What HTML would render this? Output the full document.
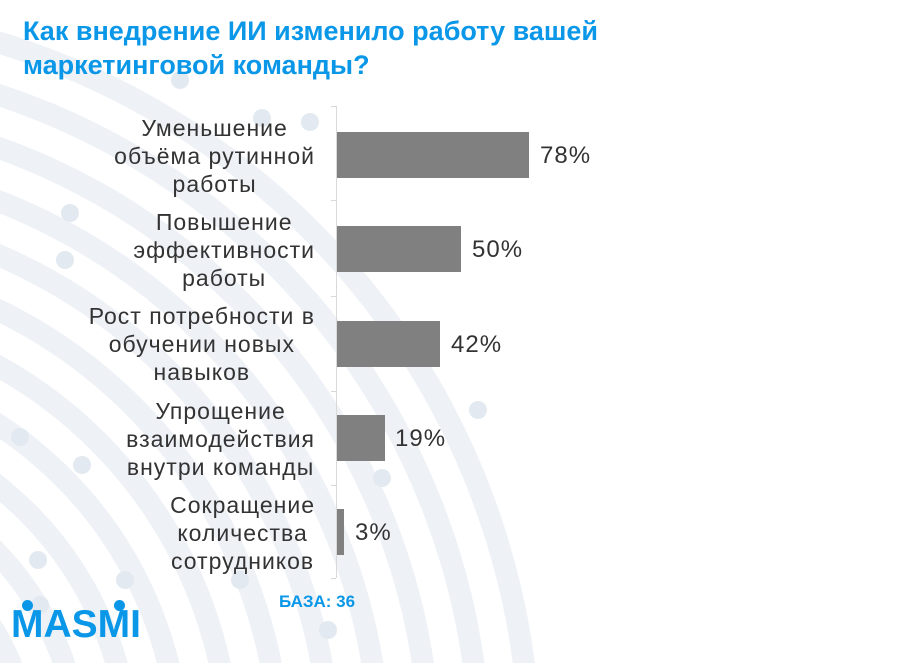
<!DOCTYPE html>
<html style="overflow:hidden"><head><meta charset="utf-8"><style>
html,body{margin:0;width:906px;height:663px;overflow:hidden}
body{background:#fff;font-family:"Liberation Sans","DejaVu Sans",sans-serif;position:relative}
.t{position:absolute;left:23px;top:14px;color:#0a97e8;font-weight:bold;font-size:27px;line-height:34px;white-space:nowrap}
.l{position:absolute;right:591px;text-align:center;color:#333;font-size:23px;letter-spacing:1px;line-height:28px;white-space:nowrap}
.b{position:absolute;left:337px;height:46px;background:#808080}
.v{position:absolute;color:#333;font-size:24px;letter-spacing:1px}
</style></head><body>
<svg width="906" height="663" style="position:absolute;left:0;top:0">
<g fill="none" stroke="#eef2f7" stroke-width="22">
<circle cx="-220" cy="760" r="250"/><circle cx="-220" cy="760" r="300"/><circle cx="-220" cy="760" r="350"/>
<circle cx="-220" cy="760" r="400"/><circle cx="-220" cy="760" r="450"/><circle cx="-220" cy="760" r="500"/>
<circle cx="-220" cy="760" r="550"/><circle cx="-220" cy="760" r="600"/><circle cx="-220" cy="760" r="650"/>
<circle cx="-220" cy="760" r="700"/><circle cx="-220" cy="760" r="750"/>
</g>
<g fill="#e3e9f0"><circle cx="40" cy="605" r="9"/><circle cx="125" cy="580" r="9"/><circle cx="240" cy="580" r="9"/><circle cx="328" cy="630" r="9"/><circle cx="70" cy="213" r="9"/><circle cx="180" cy="80" r="9"/><circle cx="262" cy="118" r="9"/><circle cx="20" cy="437" r="9"/><circle cx="478" cy="410" r="9"/><circle cx="382" cy="478" r="9"/><circle cx="82" cy="465" r="9"/><circle cx="310" cy="122" r="9"/><circle cx="65" cy="260" r="9"/><circle cx="38" cy="560" r="9"/></g>
<line x1="336.5" y1="106" x2="336.5" y2="578" stroke="#d9d9d9"/>
<g stroke="#d9d9d9"><line x1="331" y1="106.5" x2="336" y2="106.5"/><line x1="331" y1="200.5" x2="336" y2="200.5"/><line x1="331" y1="296.5" x2="336" y2="296.5"/><line x1="331" y1="391.5" x2="336" y2="391.5"/><line x1="331" y1="485.5" x2="336" y2="485.5"/><line x1="331" y1="578.5" x2="336" y2="578.5"/></g>
</svg>
<div class="t">Как внедрение ИИ изменило работу вашей<br>маркетинговой команды?</div>
<div class="l" style="top:114px">Уменьшение<br>объёма рутинной<br>работы</div>
<div class="l" style="top:208px">Повышение<br>эффективности<br>работы</div>
<div class="l" style="top:302px">Рост потребности в<br>обучении новых<br>навыков</div>
<div class="l" style="top:397px">Упрощение<br>взаимодействия<br>внутри команды</div>
<div class="l" style="top:491px">Сокращение<br>количества<br>сотрудников</div>
<div class="b" style="top:132px;width:192px"></div><div class="v" style="left:540px;top:142px">78%</div>
<div class="b" style="top:226px;width:124px"></div><div class="v" style="left:472px;top:236px">50%</div>
<div class="b" style="top:321px;width:103px"></div><div class="v" style="left:451px;top:331px">42%</div>
<div class="b" style="top:415px;width:48px"></div><div class="v" style="left:395px;top:425px">19%</div>
<div class="b" style="top:509px;width:7px"></div><div class="v" style="left:355px;top:519px">3%</div>
<div style="position:absolute;left:279px;top:592px;color:#0a97e8;font-weight:bold;font-size:17px">БАЗА: 36</div>
<div style="position:absolute;left:11px;top:604px;color:#0a97e8;font-weight:bold;font-size:39px;line-height:42px">MASMI</div>
<div style="position:absolute;left:22px;top:600px;width:11px;height:11px;border-radius:50%;background:#0a97e8"></div>
<div style="position:absolute;left:114px;top:600px;width:11px;height:11px;border-radius:50%;background:#0a97e8"></div>
</body></html>
